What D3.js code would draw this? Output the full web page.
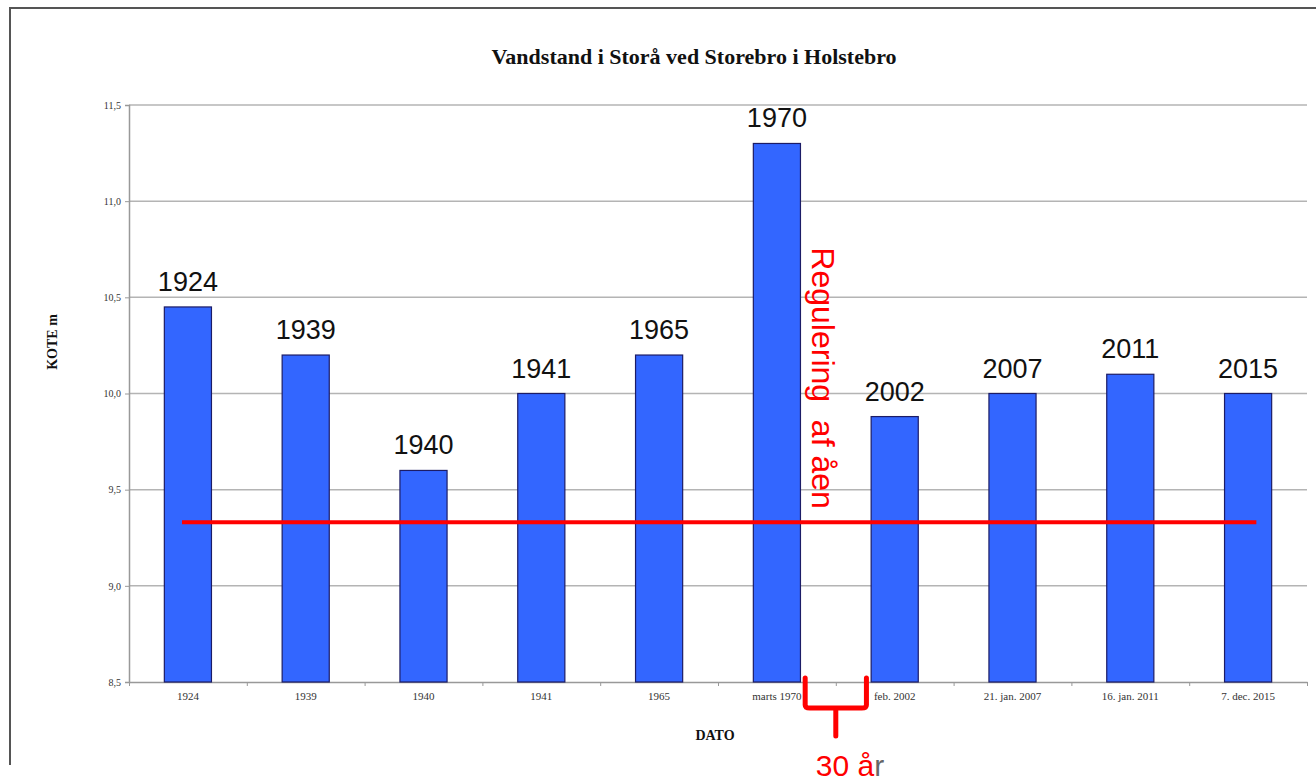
<!DOCTYPE html>
<html>
<head>
<meta charset="utf-8">
<script src="https://cdn.jsdelivr.net/npm/d3@7"></script>
<style>
  body { margin: 0; background: #fff; }
  .tick text { font-family: 'Liberation Serif', 'Times New Roman', serif; fill: #333; }
</style>
</head>
<body>
<div id="chart"></div>
<script>
const categories = ['1924', '1939', '1940', '1941', '1965', 'marts 1970', 'feb. 2002', '21. jan. 2007', '16. jan. 2011', '7. dec. 2015'];
const barLabels = ['1924', '1939', '1940', '1941', '1965', '1970', '2002', '2007', '2011', '2015'];
const levels = [10.45, 10.2, 9.6, 10.0, 10.2, 11.3, 9.88, 10.0, 10.1, 10.0];
const yTicks = [8.5, 9.0, 9.5, 10.0, 10.5, 11.0, 11.5];
const referenceLevel = 9.33;

const width = 1316;
const height = 784;
const margins = { top: 105, bottom: 102, left: 129, right: 9 };

const svg = d3.select('#chart').append('svg')
  .attr('width', width)
  .attr('height', height);

// outer frame (top + left edge only, like the cropped screenshot)
svg.append('path')
  .attr('d', `M10,765 L10,8 L${width},8`)
  .style('fill', 'none')
  .style('stroke', '#555')
  .style('stroke-width', 2);

const xScale = d3.scaleBand()
  .domain(categories)
  .range([margins.left, width - margins.right])
  .paddingInner(0.6)
  .paddingOuter(0.3);

// index scale for category boundaries
const xIndex = d3.scaleLinear()
  .domain([0, categories.length])
  .range([margins.left, width - margins.right]);

const yScale = d3.scaleLinear()
  .domain([8.5, 11.5])
  .range([height - margins.bottom, margins.top]);

// gridlines
svg.append('g')
  .selectAll('line')
  .data(yTicks.slice(1))
  .join('line')
  .attr('x1', margins.left)
  .attr('x2', width - margins.right)
  .attr('y1', d => yScale(d))
  .attr('y2', d => yScale(d))
  .style('stroke', '#b4b4b4')
  .style('stroke-width', 1.5);

const yAxis = d3.axisLeft(yScale)
  .tickValues(yTicks)
  .tickSize(4)
  .tickFormat(d => d3.format('.1f')(d).replace('.', ','));

const yG = svg.append('g')
  .attr('transform', `translate(${margins.left},0)`)
  .call(yAxis);
yG.select('.domain').style('stroke', '#999').style('stroke-width', 1.5);
yG.selectAll('.tick line').style('stroke', '#999');
yG.selectAll('.tick text').style('font-size', '10px').attr('x', -8);

// x boundary ticks
const xTickAxis = d3.axisBottom(xIndex)
  .tickValues(d3.range(categories.length + 1))
  .tickSize(4)
  .tickSizeOuter(0)
  .tickFormat('');
const xTickG = svg.append('g')
  .attr('transform', `translate(0,${height - margins.bottom})`)
  .call(xTickAxis);
xTickG.select('.domain').style('stroke', '#999').style('stroke-width', 1.5);
xTickG.selectAll('.tick line').style('stroke', '#999');

// x category labels
const xAxis = d3.axisBottom(xScale).tickSize(0).tickPadding(10);
const xG = svg.append('g')
  .attr('transform', `translate(0,${height - margins.bottom})`)
  .call(xAxis);
xG.select('.domain').remove();
xG.selectAll('.tick text').style('font-size', '11px');

// bars
svg.append('g')
  .selectAll('rect')
  .data(levels)
  .join('rect')
  .attr('x', (d, i) => xScale(categories[i]))
  .attr('y', d => yScale(d))
  .attr('width', xScale.bandwidth())
  .attr('height', d => yScale(8.5) - yScale(d))
  .style('fill', '#3366ff')
  .style('stroke', '#1c1c66')
  .style('stroke-width', 1.2);

// year labels over bars
svg.append('g')
  .selectAll('text')
  .data(levels)
  .join('text')
  .attr('x', (d, i) => xScale(categories[i]) + xScale.bandwidth() / 2)
  .attr('y', d => yScale(d) - 16)
  .attr('text-anchor', 'middle')
  .style('font-family', "'Liberation Sans', Arial, sans-serif")
  .style('font-size', '27px')
  .style('fill', '#111')
  .text((d, i) => barLabels[i]);

// reference line
svg.append('line')
  .attr('x1', xIndex(0.45))
  .attr('x2', xIndex(9.57))
  .attr('y1', yScale(referenceLevel))
  .attr('y2', yScale(referenceLevel))
  .style('stroke', '#ff0000')
  .style('stroke-width', 4);

// rotated annotation
svg.append('text')
  .attr('transform', `translate(${xIndex(5.8)},${yScale(10.76)}) rotate(90)`)
  .style('font-family', "'Liberation Sans', Arial, sans-serif")
  .style('font-size', '32px')
  .style('fill', '#ff0000')
  .style('white-space', 'pre')
  .text('Regulering  af åen');

// brace under the gap
const braceTop = yScale(8.5) - 4;
const braceMid = braceTop + 30;
svg.append('path')
  .attr('d', `M${xIndex(5.74)},${braceTop} L${xIndex(5.74)},${braceMid - 3} Q${xIndex(5.74)},${braceMid} ${xIndex(5.78)},${braceMid} ` +
    `L${xIndex(6.22)},${braceMid} Q${xIndex(6.26)},${braceMid} ${xIndex(6.26)},${braceMid - 3} L${xIndex(6.26)},${braceTop} ` +
    `M${xIndex(6)},${braceMid} L${xIndex(6)},${braceMid + 28}`)
  .style('fill', 'none')
  .style('stroke', '#ff0000')
  .style('stroke-width', 5)
  .style('stroke-linecap', 'round')
  .style('stroke-linejoin', 'round');

const yearsText = svg.append('text')
  .attr('x', xIndex(6.12))
  .attr('y', 776)
  .attr('text-anchor', 'middle')
  .style('font-family', "'Liberation Sans', Arial, sans-serif")
  .style('font-size', '30px');
yearsText.append('tspan').style('fill', '#ff0000').text('30 å');
yearsText.append('tspan').style('fill', '#666').text('r');

// title
svg.append('text')
  .attr('x', 694)
  .attr('y', 64)
  .attr('text-anchor', 'middle')
  .style('font-family', "'Liberation Serif', 'Times New Roman', serif")
  .style('font-weight', 'bold')
  .style('font-size', '22px')
  .style('fill', '#111')
  .text('Vandstand i Storå ved Storebro i Holstebro');

// axis titles
svg.append('text')
  .attr('transform', `translate(57,342) rotate(-90)`)
  .attr('text-anchor', 'middle')
  .style('font-family', "'Liberation Serif', 'Times New Roman', serif")
  .style('font-weight', 'bold')
  .style('font-size', '14px')
  .style('fill', '#111')
  .text('KOTE m');

svg.append('text')
  .attr('x', 715)
  .attr('y', 740)
  .attr('text-anchor', 'middle')
  .style('font-family', "'Liberation Serif', 'Times New Roman', serif")
  .style('font-weight', 'bold')
  .style('font-size', '14px')
  .style('fill', '#111')
  .text('DATO');
</script>
</body>
</html>
